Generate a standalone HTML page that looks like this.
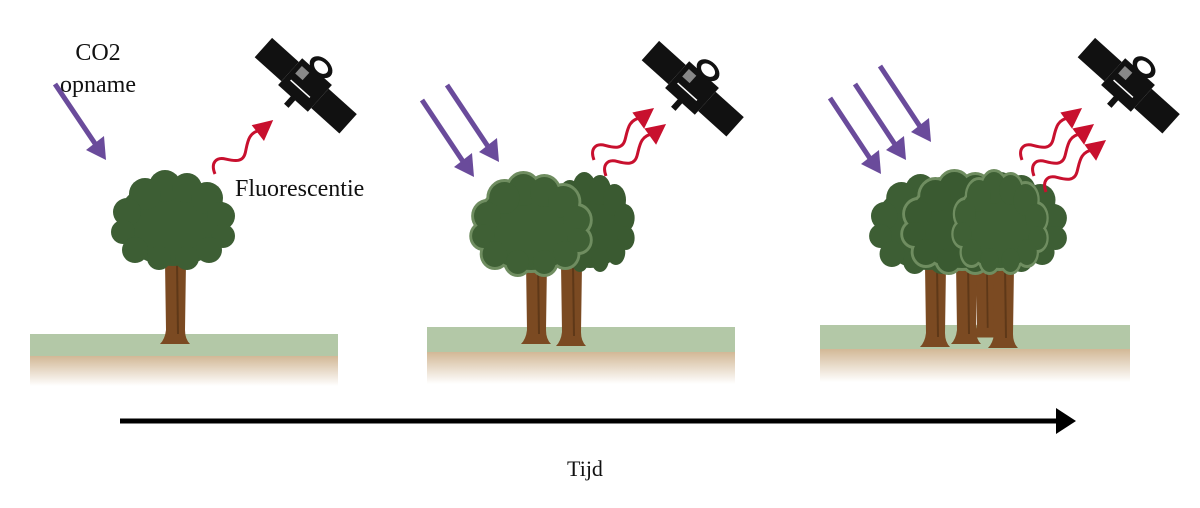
<!DOCTYPE html>
<html><head><meta charset="utf-8"><style>
html,body{margin:0;padding:0;background:#fff;}
svg{display:block}
text{font-family:"Liberation Serif",serif;fill:#111}
</style></head><body>
<svg width="1200" height="508" viewBox="0 0 1200 508" xmlns="http://www.w3.org/2000/svg">
<defs>
<linearGradient id="fade" x1="0" y1="0" x2="0" y2="1">
<stop offset="0" stop-color="#d2b896"/><stop offset="1" stop-color="#ffffff"/>
</linearGradient>
<g id="canopy">
<ellipse cx="0" cy="2" rx="56" ry="44"/>
<circle cx="-8" cy="-34" r="16"/><circle cx="14" cy="-32" r="15"/><circle cx="-28" cy="-26" r="16"/>
<circle cx="34" cy="-22" r="16"/><circle cx="-46" cy="-8" r="14"/><circle cx="48" cy="-4" r="14"/>
<circle cx="-50" cy="12" r="12"/><circle cx="50" cy="16" r="12"/><circle cx="-38" cy="30" r="13"/>
<circle cx="36" cy="30" r="13"/><circle cx="-14" cy="38" r="12"/><circle cx="14" cy="38" r="12"/>
</g>
<g id="trunk">
<path d="M-10,0 L-9,68 Q-10,77 -15,82 L15,82 Q10,77 10,68 L11,0 Q18,-6 22,-12 L15,-12 Q7,-4 1,-4 Q-7,-4 -15,-12 L-22,-12 Q-16,-6 -10,0Z" fill="#7b4a22"/>
<path d="M2,0 L3,72" stroke="#5e3818" stroke-width="2" fill="none"/>
</g>
<g id="sat">
<g transform="rotate(42)">
<rect x="-56" y="-13" width="36" height="26" fill="#111"/>
<rect x="20" y="-13" width="38" height="26" fill="#111"/>
<rect x="-20" y="-18" width="40" height="36" fill="#111"/>
<rect x="-15" y="-12" width="10" height="10" fill="#fff" opacity=".5"/>
<line x1="-14" y1="6" x2="12" y2="6" stroke="#fff" stroke-width="1.5"/>
<ellipse cx="0" cy="-24" rx="13" ry="9" fill="#111"/>
<ellipse cx="0" cy="-24" rx="8" ry="5.5" fill="#fff"/>
<rect x="-3" y="16" width="6" height="12" fill="#111"/>
</g>
</g>
<g id="wave">
<path d="M0,0 C2,-12 10,-14 17,-7 S30,5 37,-2 S50,-18 62,-13" fill="none" stroke="#c8102e" stroke-width="3"/>
<polygon points="57,-22 78,-15 59,-2" fill="#c8102e"/>
</g>
</defs>

<rect x="30" y="334" width="308" height="22" fill="#b3c8a7"/>
<rect x="30" y="356" width="308" height="30" fill="url(#fade)"/>
<rect x="427" y="327" width="308" height="25" fill="#b3c8a7"/>
<rect x="427" y="352" width="308" height="32" fill="url(#fade)"/>
<rect x="820" y="325" width="310" height="24" fill="#b3c8a7"/>
<rect x="820" y="349" width="310" height="33" fill="url(#fade)"/>

<!-- panel 1 -->
<use href="#trunk" transform="translate(175,262)"/>
<use href="#canopy" transform="translate(173,220)" fill="#3d5e34"/>
<line x1="55" y1="84" x2="96" y2="145" stroke="#6a4b9b" stroke-width="5"/>
<polygon points="86,150 106,160 104,136" fill="#6a4b9b"/>
<use href="#wave" transform="translate(215,174) rotate(-32)"/>
<use href="#sat" transform="translate(305,85)"/>
<text x="98" y="60" font-size="24" text-anchor="middle">CO2</text>
<text x="98" y="92" font-size="24" text-anchor="middle">opname</text>
<text x="235" y="196" font-size="24">Fluorescentie</text>

<!-- panel 2 -->
<use href="#trunk" transform="translate(536,262)"/>
<use href="#trunk" transform="translate(571,264)"/>
<use href="#canopy" transform="translate(590,222) scale(0.72,1)" fill="#3a5a31"/>
<use href="#canopy" transform="translate(531,224) scale(0.95,1)" fill="#6f8d60" stroke="#6f8d60" stroke-width="6"/>
<use href="#canopy" transform="translate(531,224) scale(0.95,1)" fill="#3f6035"/>
<line x1="422" y1="100" x2="464" y2="163" stroke="#6a4b9b" stroke-width="5"/>
<polygon points="454,167 474,177 472,153" fill="#6a4b9b"/>
<line x1="447" y1="85" x2="489" y2="148" stroke="#6a4b9b" stroke-width="5"/>
<polygon points="479,152 499,162 497,138" fill="#6a4b9b"/>
<use href="#wave" transform="translate(594,160) rotate(-30)"/>
<use href="#wave" transform="translate(606,176) rotate(-30)"/>
<use href="#sat" transform="translate(692,88)"/>

<!-- panel 3 -->
<use href="#trunk" transform="translate(985,258) scale(0.9,0.97)"/>
<use href="#trunk" transform="translate(935,265)"/>
<use href="#trunk" transform="translate(966,262)"/>
<use href="#trunk" transform="translate(1003,266)"/>
<use href="#canopy" transform="translate(928,224) scale(0.95,1)" fill="#3d5e34"/>
<use href="#canopy" transform="translate(1008,222) scale(0.95,1)" fill="#3d5e34"/>
<use href="#canopy" transform="translate(962,222) scale(0.95,1)" fill="#6f8d60" stroke="#6f8d60" stroke-width="6"/>
<use href="#canopy" transform="translate(962,222) scale(0.95,1)" fill="#3a5a31"/>
<use href="#canopy" transform="translate(1000,222) scale(0.75,1)" fill="#6f8d60" stroke="#6f8d60" stroke-width="6"/>
<use href="#canopy" transform="translate(1000,222) scale(0.75,1)" fill="#3f6035"/>
<line x1="830" y1="98" x2="871" y2="160" stroke="#6a4b9b" stroke-width="5"/>
<polygon points="861,164 881,174 879,150" fill="#6a4b9b"/>
<line x1="855" y1="84" x2="896" y2="146" stroke="#6a4b9b" stroke-width="5"/>
<polygon points="886,150 906,160 904,136" fill="#6a4b9b"/>
<line x1="880" y1="66" x2="921" y2="128" stroke="#6a4b9b" stroke-width="5"/>
<polygon points="911,132 931,142 929,118" fill="#6a4b9b"/>
<use href="#wave" transform="translate(1022,160) rotate(-30)"/>
<use href="#wave" transform="translate(1034,176) rotate(-30)"/>
<use href="#wave" transform="translate(1046,192) rotate(-30)"/>
<use href="#sat" transform="translate(1128,85)"/>

<line x1="120" y1="421" x2="1060" y2="421" stroke="#000" stroke-width="5"/>
<polygon points="1056,408 1076,421 1056,434" fill="#000"/>
<text x="585" y="476" font-size="22" text-anchor="middle">Tijd</text>
</svg>
</body></html>
